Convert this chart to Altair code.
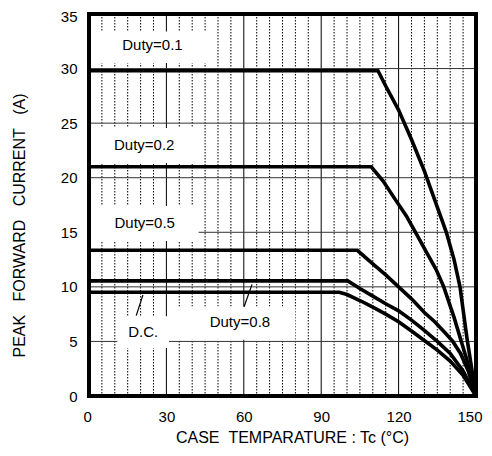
import altair as alt
import pandas as pd

# ---- curve data (case temperature, peak forward current) ----
d01_x = [0, 112, 115, 120, 125, 130, 135, 138.5, 141.5, 143.8, 146.5, 150]
d01_y = [29.8, 29.8, 28.4, 26.2, 23.5, 20.6, 17.3, 15.0, 12.5, 10.0, 5.3, 0]

d02_x = [0, 109.4, 114, 119, 123, 127, 131, 134.5, 137.5, 141.5, 144.3, 147.5, 150]
d02_y = [21.0, 21.0, 19.7, 17.9, 16.5, 14.8, 13.1, 11.6, 10.0, 7.2, 5.0, 2.5, 0]

d05_x = [0, 104, 110, 115, 120, 125, 130, 134, 138, 141, 144, 147, 150]
d05_y = [13.35, 13.35, 12.1, 11.1, 10.0, 8.9, 7.65, 6.8, 5.8, 5.0, 3.9, 2.3, 0]

d08_x = [0, 100.3, 105, 110, 115, 120, 125, 129.5, 135, 140, 145, 150]
d08_y = [10.55, 10.55, 9.85, 9.15, 8.45, 7.8, 6.95, 6.1, 5.0, 3.9, 2.3, 0]

dc_x = [0, 97, 100, 105, 110, 115, 120, 125, 130.5, 135, 140, 145, 150]
dc_y = [9.5, 9.5, 9.3, 8.75, 8.15, 7.5, 6.8, 5.95, 5.0, 4.2, 3.2, 1.9, 0]

series_names = ["Duty=0.1", "Duty=0.2", "Duty=0.5", "Duty=0.8", "D.C."]
series_x = [d01_x, d02_x, d05_x, d08_x, dc_x]
series_y = [d01_y, d02_y, d05_y, d08_y, dc_y]

# ---- axes / grid values ----
x_ticks = [0, 30, 60, 90, 120, 150]
y_ticks = [0, 5, 10, 15, 20, 25, 30, 35]
x_major_grid = [30, 60, 90, 120]
x_minor_grid = [v for v in range(5, 150, 5) if v % 30 != 0]
y_grid = [5, 10, 15, 20, 25, 30]

# ---- annotation labels ----
label_text = ["Duty=0.1", "Duty=0.2", "Duty=0.5", "D.C.", "Duty=0.8"]
label_x = [24.6, 21.4, 21.6, 21.0, 58.5]
label_y = [31.7, 22.5, 15.4, 5.43, 6.35]

box_x1 = [0, 0, 0, 11, 33]
box_x2 = [47.5, 42.5, 42.5, 31, 80]
box_y1 = [30.5, 21.35, 14.2, 4.4, 5.15]
box_y2 = [33.4, 24.55, 17.4, 7.3, 8.2]

leader_x1 = [20.9, 63.2]
leader_y1 = [9.25, 10.23]
leader_x2 = [18.3, 60.1]
leader_y2 = [7.36, 8.18]

W, H = 387, 382
FONT = "Liberation Sans"

rows = []
for name, xs_, ys_ in zip(series_names, series_x, series_y):
    for i, (a, b) in enumerate(zip(xs_, ys_)):
        rows.append({"series": name, "T": a, "I": b, "o": i})
curves_df = pd.DataFrame(rows)

xs = alt.Scale(domain=[0, 150], nice=False, zero=False)
ys = alt.Scale(domain=[0, 35], nice=False, zero=False)

x_axis = alt.Axis(
    values=x_ticks, title="CASE\u00a0\u00a0TEMPARATURE : Tc (°C)",
    grid=False, ticks=False, tickSize=0, domain=False,
    labelFont=FONT, labelFontSize=15, labelColor="black", labelPadding=13,
    labelFlush=True, labelFlushOffset=6,
    titleFont=FONT, titleFontSize=16, titleFontWeight="normal", titleColor="black",
    titleX=203, titleY=46, titleAlign="center", titleBaseline="alphabetic",
)
y_axis = alt.Axis(
    values=y_ticks, title="PEAK\u00a0\u00a0\u00a0FORWARD\u00a0\u00a0\u00a0CURRENT\u00a0\u00a0\u00a0(A)",
    grid=False, ticks=False, tickSize=0, domain=False,
    labelFont=FONT, labelFontSize=15, labelColor="black", labelPadding=12,
    labelOffset={"condition": {"test": "datum.value == 35", "value": 2}, "value": 0},
    titleFont=FONT, titleFontSize=16, titleFontWeight="normal", titleColor="black",
    titleAngle=270, titleX=-65, titleY=211, titleAlign="center", titleBaseline="alphabetic",
)

minor = alt.Chart(pd.DataFrame({"x": x_minor_grid})).mark_rule(
    color="black", strokeWidth=1, strokeDash=[1.5, 1.5]
).encode(x=alt.X("x:Q", scale=xs, axis=x_axis))

major = alt.Chart(pd.DataFrame({"x": x_major_grid})).mark_rule(
    color="black", strokeWidth=1
).encode(x=alt.X("x:Q", scale=xs, axis=x_axis))

hgrid = alt.Chart(pd.DataFrame({"y": y_grid})).mark_rule(
    color="#333333", strokeWidth=1
).encode(y=alt.Y("y:Q", scale=ys, axis=y_axis))

boxes = alt.Chart(pd.DataFrame({"x1": box_x1, "x2": box_x2, "y1": box_y1, "y2": box_y2})).mark_rect(
    fill="white", strokeWidth=0
).encode(
    x=alt.X("x1:Q", scale=xs, axis=x_axis), x2="x2:Q",
    y=alt.Y("y1:Q", scale=ys, axis=y_axis), y2="y2:Q",
)

curves = alt.Chart(curves_df).mark_line(
    color="black", strokeWidth=3.6, strokeJoin="miter"
).encode(
    x=alt.X("T:Q", scale=xs, axis=x_axis),
    y=alt.Y("I:Q", scale=ys, axis=y_axis),
    detail="series:N",
    order="o:Q",
)

leaders = alt.Chart(pd.DataFrame({"x1": leader_x1, "y1": leader_y1, "x2": leader_x2, "y2": leader_y2})).mark_rule(
    color="black", strokeWidth=1.2
).encode(
    x=alt.X("x1:Q", scale=xs, axis=x_axis), x2="x2:Q",
    y=alt.Y("y1:Q", scale=ys, axis=y_axis), y2="y2:Q",
)

labels = alt.Chart(pd.DataFrame({"t": label_text, "x": label_x, "y": label_y})).mark_text(
    font=FONT, fontSize=15, color="black", align="center", baseline="alphabetic"
).encode(
    x=alt.X("x:Q", scale=xs, axis=x_axis),
    y=alt.Y("y:Q", scale=ys, axis=y_axis),
    text="t:N",
)

frame = alt.Chart(pd.DataFrame({"a": [0]})).mark_rect(
    filled=False, stroke="black", strokeWidth=4
).encode(x=alt.value(0), x2=alt.value(W), y=alt.value(0), y2=alt.value(H))

chart = alt.layer(minor, major, hgrid, boxes, curves, leaders, labels, frame).properties(
    width=W, height=H,
    autosize=alt.AutoSizeParams(type="none"),
    padding={"left": 81, "top": 6, "right": 8, "bottom": 50},
    background="white",
).configure_view(stroke=None)

chart.save("out.html", embed_options={"renderer": "svg", "actions": False})
